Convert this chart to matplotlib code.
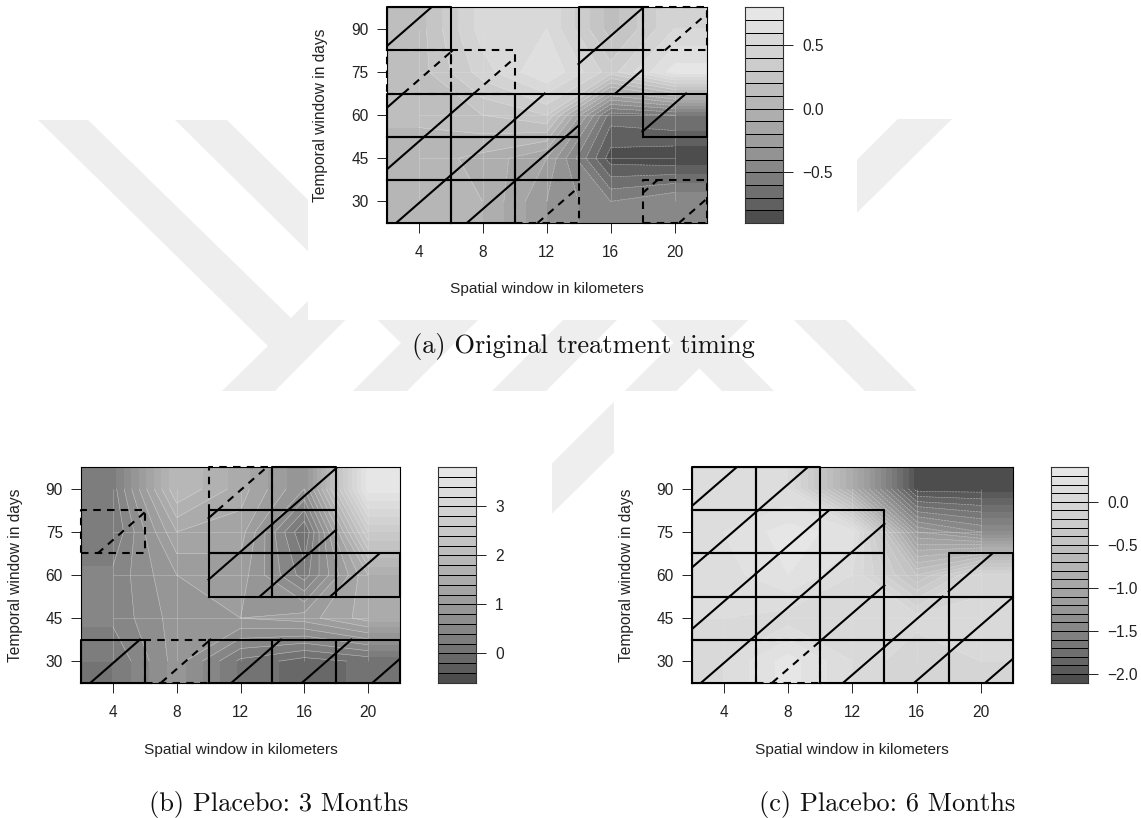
#!/usr/bin/env python3
"""Contour panels of ATT estimates by spatial and temporal window, with significance cells."""
import matplotlib
matplotlib.use("Agg")
import matplotlib.pyplot as plt
from matplotlib.patches import Polygon, Rectangle
import numpy as np

W, H = 1141, 818
plt.rcParams["font.family"] = ["Liberation Sans", "DejaVu Sans"]

# window centres on the grid
SPATIAL = [4, 8, 12, 16, 20]
TEMPORAL = [30, 45, 60, 75, 90]
X_EDGES = [2, 6, 10, 14, 18, 22]
Y_EDGES = [22.5, 37.5, 52.5, 67.5, 82.5, 97.5]

# estimates, rows follow TEMPORAL
Z_A = [[0.08, 0.00, -0.30, -0.50, -0.40],
       [0.05, -0.03, -0.20, -0.85, -0.88],
       [0.12, 0.20, 0.30, -0.65, -0.60],
       [0.15, 0.45, 0.70, 0.35, 0.75],
       [0.15, 0.55, 0.60, 0.15, 0.50]]
Z_B = [[0.2, 0.9, 0.15, -0.1, 0.05],
       [0.45, 0.9, 1.0, 1.1, 1.5],
       [0.45, 1.0, 1.1, 0.3, 1.6],
       [0.2, 1.4, 1.3, 0.0, 2.6],
       [0.3, 2.0, 1.5, 0.8, 3.7]]
Z_C = [[0.10, 0.35, 0.10, -0.10, 0.00],
       [0.10, 0.05, 0.05, 0.05, 0.05],
       [0.15, 0.30, 0.10, -0.50, -0.05],
       [0.20, 0.35, 0.25, -1.20, -1.40],
       [0.15, 0.10, -0.90, -2.05, -2.05]]

# significance per cell, rows follow Y_EDGES: s = 5 %, d = 10 %, n = none
SIG_A = ["ssdnd", "sssnn", "sssns", "ddnsn", "snnsd"]
SIG_B = ["sdsss", "nnnnn", "nnsss", "dnssn", "nndsn"]
SIG_C = ["sdsss", "sssss", "sssns", "sssnn", "ssnnn"]

LEVELS_A = np.round(np.arange(-0.9, 0.81, 0.1), 2)
LEVELS_B = np.round(np.arange(-0.6, 3.81, 0.2), 2)
LEVELS_C = np.round(np.arange(-2.1, 0.41, 0.1), 2)
TICKS_A = [-0.5, 0.0, 0.5]
TICKS_B = [0, 1, 2, 3]
TICKS_C = [-2.0, -1.5, -1.0, -0.5, 0.0]

# pale background mark, pixel coordinates
WM_ARMS = [
    [(38, 120), (88, 120), (291, 318), (400, 209), (455, 209), (275, 391), (222, 391), (268, 346)],
    [(175, 120), (227, 120), (430, 320), (480, 318), (407, 391), (353, 391), (401, 343)],
    [(492, 391), (546, 391), (620, 317), (566, 317)],
    [(898, 119), (952, 119), (500, 565), (450, 565)],
    [(722, 391), (774, 391), (690, 307), (638, 307)],
    [(865, 391), (917, 391), (830, 304), (778, 304)],
]
WM_BOXES = [(308, 0, 857, 320), (0, 391, 552, 818), (614, 391, 1141, 818)]


def px_rect(x0, y0, x1, y1):
    return [x0 / W, 1 - y1 / H, (x1 - x0) / W, (y1 - y0) / H]


def gray_colors(n, start=0.3, end=0.9, gamma=2.2):
    v = np.linspace(start ** gamma, end ** gamma, n) ** (1 / gamma)
    return [(g, g, g) for g in v]


def hatch_segments(x0, x1, y0, y1, slope=4.85, step=4.42, start=2.6):
    segs = []
    for n in range(-6, 8):
        xn = start + n * step
        ya = max(y0, 22.5 + slope * (x0 - xn))
        yb = min(y1, 22.5 + slope * (x1 - xn))
        if yb > ya:
            segs.append((xn + (ya - 22.5) / slope, xn + (yb - 22.5) / slope, ya, yb))
    return segs


def draw_cells(ax, sig):
    # dashed first so the solid frames sit on top of shared edges
    for kind, style in (("d", (0, (3.6, 3.0))), ("s", "-")):
        for i, row in enumerate(sig):
            for j, mark in enumerate(row):
                if mark != kind:
                    continue
                x0, x1 = X_EDGES[j], X_EDGES[j + 1]
                y0, y1 = Y_EDGES[i], Y_EDGES[i + 1]
                ax.plot([x0, x1, x1, x0, x0], [y0, y0, y1, y1, y0], color="black",
                        lw=1.5, ls=style, clip_on=False, zorder=4, dash_capstyle="butt")
                for xa, xb, ya, yb in hatch_segments(x0, x1, y0, y1):
                    ax.plot([xa, xb], [ya, yb], color="black", lw=1.5, ls=style,
                            zorder=3, dash_capstyle="butt")


def draw_panel(fig, box, bar, z, levels, ticks, sig, ylab_x, xlab_y, caption, cap_x, cap_y):
    ax = fig.add_axes(px_rect(*box))
    z = np.array(z)
    colors = gray_colors(len(levels) - 1)
    # clamp values out to the plot edges
    xs = [2] + SPATIAL + [22]
    ys = [22.5] + TEMPORAL + [97.5]
    ax.contourf(xs, ys, np.pad(z, 1, mode="edge"), levels=levels, colors=colors, extend="both")
    ax.contour(SPATIAL, TEMPORAL, z, levels=levels, colors="#e4e4e4", linewidths=0.4, alpha=0.6)
    ax.hlines(TEMPORAL[1:-1], 4, 20, color="#e4e4e4", lw=0.4, alpha=0.5)
    ax.vlines(SPATIAL, 30, 90, color="#e4e4e4", lw=0.4, alpha=0.5)
    draw_cells(ax, sig)
    ax.set_xlim(2, 22)
    ax.set_ylim(22.5, 97.5)
    ax.set_xticks(SPATIAL)
    ax.set_yticks(TEMPORAL)
    ax.tick_params(length=7, width=0.7, labelsize=11.2, pad=9, colors="#222222")
    ax.tick_params(axis="y", pad=6)
    for s in ax.spines.values():
        s.set_linewidth(0.8)

    mid = (box[0] + box[2]) / 2
    fig.text(mid / W, 1 - xlab_y / H, "Spatial window in kilometers", fontsize=11.1,
             ha="center", va="center", color="#222222")
    fig.text(ylab_x / W, 1 - (box[1] + box[3]) / 2 / H, "Temporal window in days", fontsize=11.2,
             rotation=90, ha="center", va="center", color="#222222")
    fig.text(cap_x / W, 1 - cap_y / H, caption, fontsize=19,
             family="cmr10", ha="center", va="center", color="#111111")

    cax = fig.add_axes(px_rect(*bar))
    cax.pcolormesh([0, 1], levels, np.arange(len(levels) - 1)[:, None],
                   cmap=matplotlib.colors.ListedColormap(colors), edgecolors="black", linewidth=0.6)
    cax.set_xticks([])
    cax.set_yticks(ticks)
    cax.set_yticklabels([f"{t:g}".replace("-", "\u2212") if len(ticks) == 4
                         else f"{t:.1f}".replace("-", "\u2212") for t in ticks])
    cax.yaxis.tick_right()
    cax.tick_params(length=7, width=0.7, labelsize=11.2, pad=7, colors="#222222")
    for s in cax.spines.values():
        s.set_linewidth(0.8)
        s.set_color("#333333")


def main():
    fig = plt.figure(figsize=(W / 100, H / 100), dpi=100, facecolor="white")
    bg = fig.add_axes([0, 0, 1, 1])
    bg.set_xlim(0, W)
    bg.set_ylim(H, 0)
    bg.axis("off")
    for pts in WM_ARMS:
        bg.add_patch(Polygon(pts, closed=True, fc="#eeeeee", ec="none"))
    for x0, y0, x1, y1 in WM_BOXES:
        bg.add_patch(Rectangle((x0, y0), x1 - x0, y1 - y0, fc="white", ec="none"))

    draw_panel(fig, (386.5, 7.3, 706.5, 223), (744.6, 7.3, 782.7, 223), Z_A, LEVELS_A, TICKS_A,
               SIG_A, 321, 289, "(a) Original treatment timing", 583.5, 346)
    draw_panel(fig, (81, 467.3, 400, 682.7), (437.7, 467.3, 475.7, 682.7), Z_B, LEVELS_B, TICKS_B,
               SIG_B, 16, 750, "(b) Placebo: 3 Months", 279, 805)
    draw_panel(fig, (691.5, 467.3, 1013, 682.7), (1050.5, 467.3, 1088, 682.7), Z_C, LEVELS_C, TICKS_C,
               SIG_C, 626, 750, "(c) Placebo: 6 Months", 887, 805)

    fig.savefig("out.png", dpi=100)


if __name__ == "__main__":
    main()
